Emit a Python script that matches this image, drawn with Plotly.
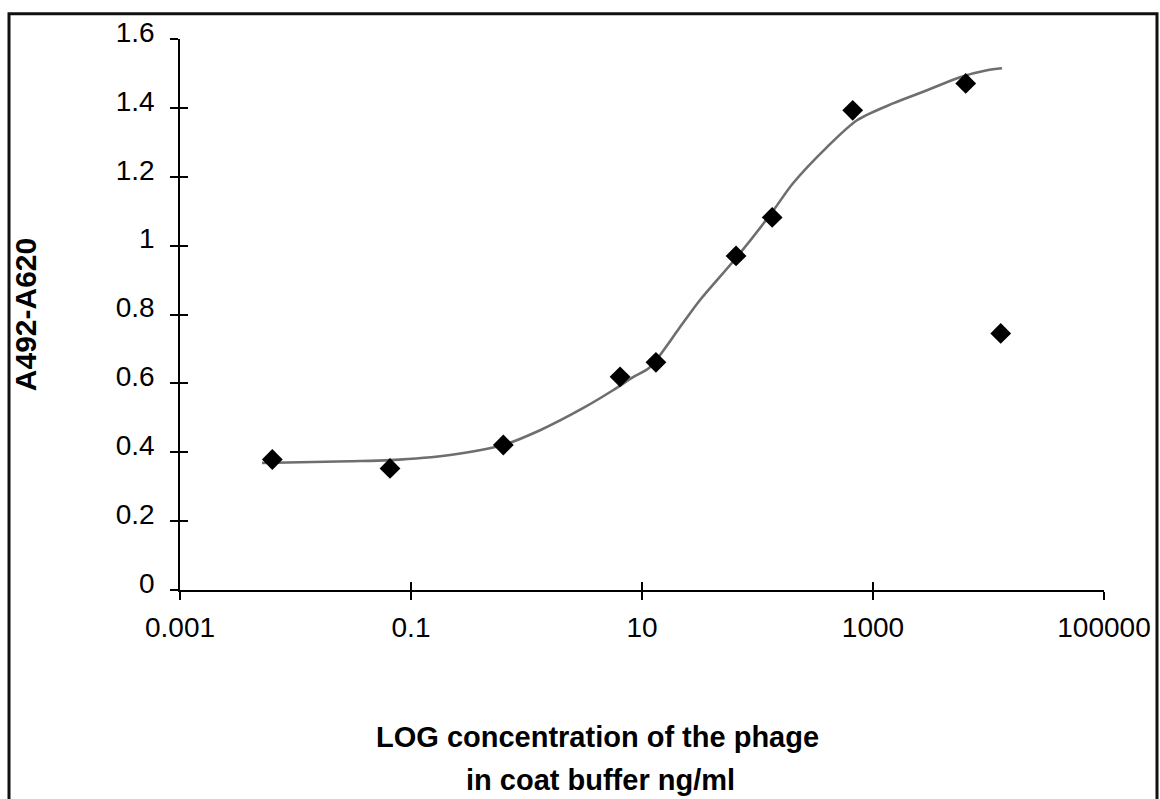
import plotly.graph_objects as go

# Measured data points (concentration ng/ml, A492-A620)
conc = [0.0063, 0.0658, 0.630, 6.46, 13.2, 65.2, 134, 667, 6350, 12760]
absorb = [0.379, 0.353, 0.421, 0.619, 0.661, 0.970, 1.082, 1.393, 1.471, 0.745]

# Fitted curve
curve_x = [0.00513, 0.01094, 0.0297, 0.0658, 0.218, 0.627, 1.31, 3.08, 5.61, 8.36,
           11.7, 21.3, 31.8, 65.2, 133.6, 203, 400, 727, 1490, 2937, 5662, 9705, 13090]
curve_y = [0.369, 0.371, 0.374, 0.377, 0.392, 0.421, 0.464, 0.528, 0.580, 0.618,
           0.647, 0.763, 0.842, 0.964, 1.097, 1.181, 1.286, 1.364, 1.413, 1.451,
           1.489, 1.509, 1.515]

x_tickvals = [0.001, 0.1, 10, 1000, 100000]
x_ticktext = ["0.001", "0.1", "10", "1000", "100000"]
y_tickvals = [0, 0.2, 0.4, 0.6, 0.8, 1.0, 1.2, 1.4, 1.6]
y_ticktext = ["0", "0.2", "0.4", "0.6", "0.8", "1", "1.2", "1.4", "1.6"]

FONT = "Liberation Sans, Arial, sans-serif"

fig = go.Figure()
fig.add_trace(go.Scatter(x=curve_x, y=curve_y, mode="lines",
                         line=dict(color="#6e6e6e", width=2.6, shape="spline", smoothing=0.8),
                         hoverinfo="skip", showlegend=False))
fig.add_trace(go.Scatter(x=conc, y=absorb, mode="markers",
                         marker=dict(symbol="diamond", size=16, color="black"),
                         showlegend=False))
# helper trace for overlay axes (inside tick halves)
fig.add_trace(go.Scatter(x=[1], y=[0], xaxis="x2", yaxis="y2", mode="markers",
                         marker=dict(opacity=0), hoverinfo="skip", showlegend=False))

axis_common = dict(showgrid=False, zeroline=False, linecolor="black", linewidth=1.5,
                   tickcolor="black", tickwidth=1.5, automargin=False)

fig.update_layout(
    width=1160, height=799,
    margin=dict(l=180, r=56, t=39, b=209),
    paper_bgcolor="white", plot_bgcolor="white",
    font=dict(family=FONT, color="black"),
    xaxis=dict(type="log", range=[-3, 5], tickvals=x_tickvals, ticktext=x_ticktext,
               ticks="outside", ticklen=8, showline=True,
               tickfont=dict(size=28, family=FONT), ticklabelstandoff=4,
               **axis_common),
    yaxis=dict(range=[0, 1.6], tickvals=y_tickvals, ticktext=y_ticktext,
               ticks="outside", ticklen=8, showline=True,
               tickfont=dict(size=28, family=FONT), ticklabelstandoff=10,
               ticklabelshift=-7,
               **axis_common),
    xaxis2=dict(type="log", range=[-3, 5], overlaying="x", anchor="y2", side="bottom",
                tickvals=x_tickvals, ticks="inside", ticklen=8, showticklabels=False,
                showline=False, showgrid=False, zeroline=False, automargin=False,
                tickcolor="black", tickwidth=1.5),
    yaxis2=dict(range=[0, 1.6], overlaying="y", anchor="x2", side="left",
                tickvals=y_tickvals, ticks="inside", ticklen=8, showticklabels=False,
                showline=False, showgrid=False, zeroline=False, automargin=False,
                tickcolor="black", tickwidth=1.5),
    shapes=[dict(type="rect", xref="paper", yref="paper",
                 x0=-0.18506, x1=1.05736, y0=-0.417, y1=1.04571,
                 line=dict(color="#111111", width=3), fillcolor="rgba(0,0,0,0)")],
    annotations=[
        dict(text="<b>A492-A620</b>", xref="paper", yref="paper", x=-0.1677, y=0.4988,
             textangle=-90, showarrow=False, xanchor="center", yanchor="middle",
             font=dict(size=30, family=FONT)),
        dict(text="<b>LOG concentration of the phage</b>", xref="paper", yref="paper",
             x=0.452, y=-0.2666, showarrow=False, xanchor="center", yanchor="middle",
             font=dict(size=29, family=FONT)),
        dict(text="<b>in coat buffer ng/ml</b>", xref="paper", yref="paper",
             x=0.455, y=-0.3446, showarrow=False, xanchor="center", yanchor="middle",
             font=dict(size=29, family=FONT)),
    ],
)

fig.write_html("out.html")
